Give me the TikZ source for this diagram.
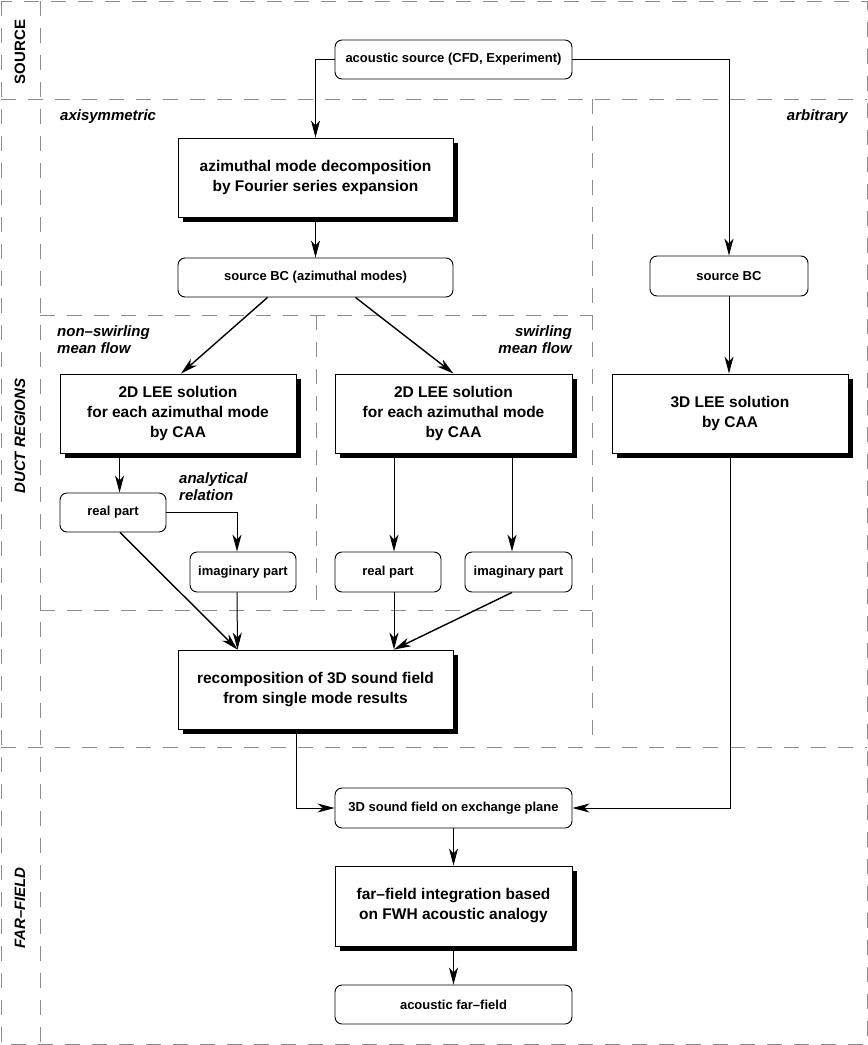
\documentclass[tikz,border=0pt]{standalone}
\usepackage{fontspec}
\setmainfont{Liberation Sans}
\usetikzlibrary{arrows.meta,calc,shadows}
\newcommand\fbig{\fontsize{15.5}{20}\selectfont\bfseries}
\newcommand\fsmall{\fontsize{13}{16}\selectfont\bfseries}
\newcommand\flab{\fontsize{15}{17}\selectfont\bfseries\itshape}
\newcommand\freg{\fontsize{15}{17}\selectfont\bfseries}
\definecolor{dashgray}{RGB}{140,140,140}
\tikzset{
  bigbox/.style={draw, fill=white, line width=0.9pt, inner sep=0pt, align=center, font=\fbig,
     drop shadow={shadow xshift=4.5pt, shadow yshift=-4.5pt, opacity=1, fill=black}},
  rbox/.style={draw, fill=white, line width=0.9pt, inner sep=0pt, rounded corners=7pt, align=center, font=\fsmall},
  arr/.style={line width=1pt, -{Stealth[length=17pt, width=9pt, inset=5pt]}},
  diag/.style={line width=1.4pt},
  region/.style={draw=dashgray, line width=0.9pt, dash pattern=on 15pt off 12pt},
  lab/.style={inner sep=0pt, font=\flab},
}
\begin{document}
\begin{tikzpicture}[x=1pt, y=-1pt]
\useasboundingbox (0,0) rectangle (868,1045);
% regions
\draw[region] (1,1) rectangle (867,1044);
\draw[region] (40,1) -- (40,1044);
\draw[region] (1,99) -- (867,99);
\draw[region] (1,747) -- (867,747);
\draw[region] (592,99) -- (592,747);
\draw[region] (40,315) -- (592,315);
\draw[region] (40,610) -- (592,610);
\draw[region] (316,315) -- (316,610);
% region labels
\node[inner sep=0pt, font=\freg, rotate=90] (lsrc) at (20,52) {SOURCE};
\node[inner sep=0pt, font=\flab, rotate=90] (lduct) at (20,436) {DUCT REGIONS};
\node[inner sep=0pt, font=\flab, rotate=90] (lfar) at (20,908) {FAR–FIELD};
\node[lab, anchor=west] (laxi) at (60,117) {axisymmetric};
\node[lab, anchor=east] (larb) at (848,117) {arbitrary};
\node[lab, anchor=north west, align=left] (lnon) at (57,325) {non–swirling\\mean flow};
\node[lab, anchor=north east, align=right] (lsw) at (572,325) {swirling\\mean flow};
\node[lab, anchor=north west, align=left] (lana) at (179,472) {analytical\\relation};
% boxes
\node[rbox, minimum width=237pt, minimum height=39pt] (src) at (453.5,59.5) {acoustic source (CFD, Experiment)};
\node[bigbox, minimum width=275pt, minimum height=79pt] (az) at (315.5,177.5) {azimuthal mode decomposition\\by Fourier series expansion};
\node[rbox, minimum width=275pt, minimum height=39pt] (sbcL) at (315.5,277.5) {source BC (azimuthal modes)};
\node[rbox, minimum width=158pt, minimum height=40pt] (sbcR) at (729,276) {source BC};
\node[bigbox, minimum width=236pt, minimum height=79pt] (lee1) at (178,413.5) {2D LEE solution\\for each azimuthal mode\\by CAA};
\node[bigbox, minimum width=237pt, minimum height=79pt] (lee2) at (453.5,413.5) {2D LEE solution\\for each azimuthal mode\\by CAA};
\node[bigbox, minimum width=236pt, minimum height=79pt] (lee3) at (730,413.5) {3D LEE solution\\by CAA};
\node[rbox, minimum width=106pt, minimum height=39pt] (re1) at (113,512.5) {real part};
\node[rbox, minimum width=106pt, minimum height=40pt] (im1) at (243,572) {imaginary part};
\node[rbox, minimum width=106pt, minimum height=40pt] (re2) at (388,572) {real part};
\node[rbox, minimum width=107pt, minimum height=40pt] (im2) at (518.5,572) {imaginary part};
\node[bigbox, minimum width=275pt, minimum height=79pt] (rec) at (315.5,689.5) {recomposition of 3D sound field\\from single mode results};
\node[rbox, minimum width=237pt, minimum height=40pt] (exch) at (453.5,808) {3D sound field on exchange plane};
\node[bigbox, minimum width=237pt, minimum height=80pt] (ffint) at (453.5,906) {far–field integration based\\on FWH acoustic analogy};
\node[rbox, minimum width=237pt, minimum height=39pt] (ff) at (453.5,1004.5) {acoustic far–field};
% connectors
\draw[arr] (src.west) -| (az.north);
\draw[arr] (src.east) -| (sbcR.north);
\draw[arr] (az.south) -- (sbcL.north);
\draw[arr, diag] ($(sbcL.south)+(-48,0)$) -- ($(lee1.north)+(3,0)$);
\draw[arr, diag] ($(sbcL.south)+(40,0)$) -- (lee2.north);
\draw[arr] (sbcR.south) -- (sbcR.south |- lee3.north);
\draw[arr] ($(lee1.south west)+(60,0)$) -- ($(re1.north west)+(60,0)$);
\draw[arr] (re1.east) -| ($(im1.north)+(-6,0)$);
\draw[arr, diag] ($(re1.south)+(7,0)$) -- ($(rec.north)+(-78,0)$);
\draw[arr] ($(im1.south)+(-6,0)$) -- ($(rec.north)+(-78,0)$);
\draw[arr] ($(lee2.south)+(-59.5,0)$) -- ($(re2.north)+(6,0)$);
\draw[arr] ($(lee2.south)+(58.5,0)$) -- ($(im2.north)+(-6.5,0)$);
\draw[arr] ($(re2.south)+(6,0)$) -- ($(rec.north)+(78.5,0)$);
\draw[arr, diag] ($(im2.south)+(-6.5,0)$) -- ($(rec.north)+(78.5,0)$);
\draw[arr] ($(rec.south)+(-19,0)$) |- (exch.west);
\draw[arr] (lee3.south) |- (exch.east);
\draw[arr] (exch.south) -- (ffint.north);
\draw[arr] (ffint.south) -- (ff.north);
\end{tikzpicture}
\end{document}
